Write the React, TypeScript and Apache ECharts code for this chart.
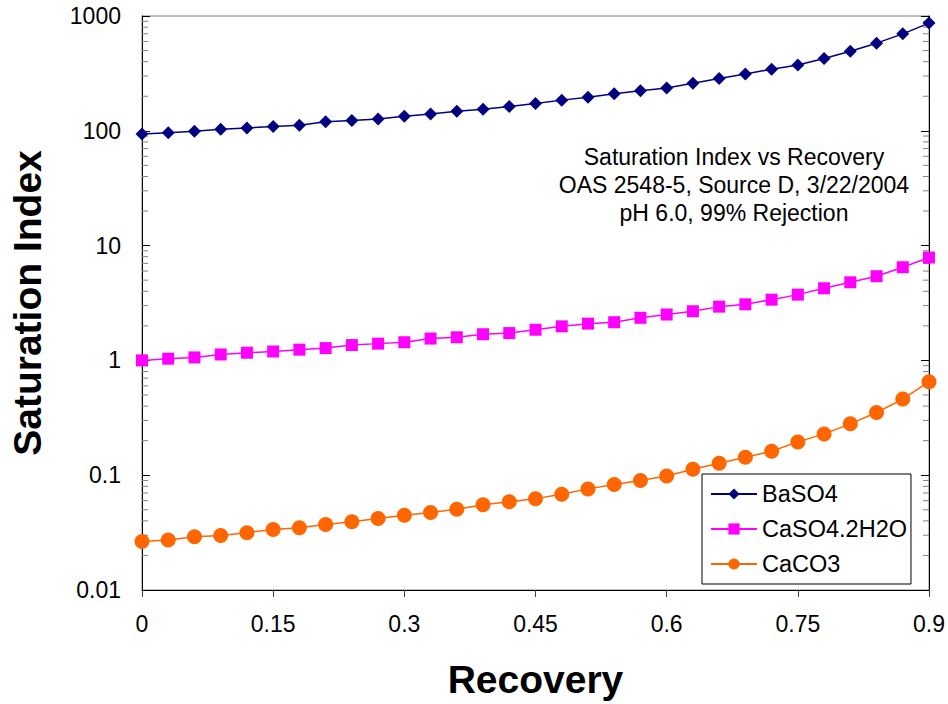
import React, { useEffect, useRef } from "react";
import * as echarts from "echarts";

const recovery = [
  0, 0.03, 0.06, 0.09, 0.12, 0.15, 0.18, 0.21, 0.24, 0.27, 0.3, 0.33, 0.36, 0.39, 0.42, 0.45,
  0.48, 0.51, 0.54, 0.57, 0.6, 0.63, 0.66, 0.69, 0.72, 0.75, 0.78, 0.81, 0.84, 0.87, 0.9,
];
const baso4 = [
  93.8, 96.2, 99, 103, 106, 109, 112, 120, 123, 127, 134, 140, 148, 154, 163, 173,
  185, 196, 210, 223, 236, 260, 285, 313, 344, 375, 426, 494, 580, 699, 867,
];
const caso4 = [
  1.0, 1.035, 1.062, 1.127, 1.166, 1.196, 1.24, 1.28, 1.36, 1.4, 1.44, 1.55, 1.59, 1.69, 1.73, 1.85,
  1.98, 2.09, 2.15, 2.35, 2.51, 2.68, 2.94, 3.08, 3.38, 3.74, 4.25, 4.79, 5.41, 6.48, 7.87,
];
const caco3 = [
  0.0264, 0.0272, 0.0291, 0.0299, 0.0316, 0.0337, 0.0349, 0.0372, 0.0394, 0.042, 0.0447, 0.0474,
  0.0504, 0.0554, 0.0588, 0.0625, 0.0681, 0.076, 0.0828, 0.0898, 0.0986, 0.1126, 0.1271, 0.1434,
  0.1617, 0.195, 0.229, 0.28, 0.352, 0.46, 0.652,
];
const seriesNames = ["BaSO4", "CaSO4.2H2O", "CaCO3"];
const annotationLines = [
  "Saturation Index vs Recovery",
  "OAS 2548-5, Source D, 3/22/2004",
  "pH 6.0, 99% Rejection",
];
const decades = [0.01, 0.1, 1, 10, 100];
const minorMultipliers = [2, 3, 4, 5, 6, 7, 8, 9];

const FONT = "'Liberation Sans', Arial, sans-serif";

export default function App() {
  const ref = useRef<HTMLDivElement>(null);
  useEffect(() => {
    if (!ref.current) return;
    const chart = echarts.init(ref.current, null, { renderer: "svg" });
    const pairs = (ys: number[]) => recovery.map((x, i) => [x, ys[i]]);
    const minorData: number[][] = [];
    decades.forEach((d) => minorMultipliers.forEach((m) => minorData.push([0, +(d * m).toPrecision(3)])));
    const xMin = 0;
    const xMax = 0.9;

    chart.setOption({
      animation: false,
      backgroundColor: "#ffffff",
      textStyle: { fontFamily: FONT },
      grid: {
        left: 142,
        top: 16,
        right: 18,
        bottom: 114,
        show: true,
        borderColor: "#808080",
        borderWidth: 1,
        backgroundColor: "transparent",
      },
      xAxis: {
        type: "value",
        min: 0,
        max: 0.9,
        interval: 0.15,
        name: "Recovery",
        nameLocation: "middle",
        nameGap: 70,
        nameTextStyle: { fontFamily: FONT, fontWeight: "bold", fontSize: 39, color: "#000" },
        axisLine: { show: true, lineStyle: { color: "#000", width: 1 } },
        axisTick: { show: true, inside: false, length: 7, lineStyle: { color: "#404040" } },
        axisLabel: { fontFamily: FONT, fontSize: 23, color: "#000", margin: 22 },
        splitLine: { show: false },
      },
      yAxis: [
        {
          type: "log",
          logBase: 10,
          min: 0.01,
          max: 1000,
          position: "left",
          name: "Saturation Index",
          nameLocation: "middle",
          nameGap: 95,
          nameTextStyle: { fontFamily: FONT, fontWeight: "bold", fontSize: 39, color: "#000" },
          axisLine: { show: true, lineStyle: { color: "#000", width: 1 } },
          axisTick: { show: true, inside: true, length: 8, lineStyle: { color: "#000" } },
          axisLabel: {
            fontFamily: FONT,
            fontSize: 23,
            color: "#000",
            margin: 21,
            formatter: (v: number) => String(+Number(v).toPrecision(6)),
          },
          splitLine: { show: false },
        },
        {
          type: "log",
          logBase: 10,
          min: 0.01,
          max: 1000,
          position: "right",
          axisLine: { show: true, lineStyle: { color: "#000", width: 1 } },
          axisTick: { show: true, inside: true, length: 8, lineStyle: { color: "#000" } },
          axisLabel: { show: false },
          splitLine: { show: false },
        },
      ],
      legend: {
        orient: "vertical",
        left: 702,
        top: 474,
        data: seriesNames,
        itemWidth: 46,
        itemHeight: 14,
        itemGap: 11,
        padding: [8, 4, 8, 8],
        backgroundColor: "#ffffff",
        borderColor: "#000",
        borderWidth: 1,
        borderRadius: 0,
        textStyle: { fontFamily: FONT, fontSize: 23.5, color: "#000", lineHeight: 24 },
      },
      graphic: [
        {
          type: "text",
          x: 734,
          y: 143,
          style: {
            text: annotationLines.join("\n"),
            font: `23px ${FONT}`,
            fill: "#000",
            align: "center",
            verticalAlign: "top",
            lineHeight: 28,
          },
        },
      ],
      series: [
        {
          type: "custom",
          name: "minorTicks",
          silent: true,
          yAxisIndex: 0,
          data: minorData,
          renderItem: (params: any, api: any) => {
            const v = api.value(1);
            const l = api.coord([xMin, v]);
            const r = api.coord([xMax, v]);
            return {
              type: "group",
              children: [
                { type: "line", shape: { x1: l[0], y1: l[1], x2: l[0] + 6, y2: l[1] }, style: { stroke: "#808080", lineWidth: 1 } },
                { type: "line", shape: { x1: r[0] - 6, y1: r[1], x2: r[0], y2: r[1] }, style: { stroke: "#808080", lineWidth: 1 } },
              ],
            };
          },
        },
        {
          name: seriesNames[0],
          type: "line",
          data: pairs(baso4),
          symbol: "diamond",
          symbolSize: 13,
          itemStyle: { color: "#000080" },
          lineStyle: { color: "#000080", width: 1.5 },
        },
        {
          name: seriesNames[1],
          type: "line",
          data: pairs(caso4),
          symbol: "rect",
          symbolSize: 12,
          itemStyle: { color: "#FF00FF" },
          lineStyle: { color: "#FF00FF", width: 1.5 },
        },
        {
          name: seriesNames[2],
          type: "line",
          data: pairs(caco3),
          symbol: "circle",
          symbolSize: 15,
          itemStyle: { color: "#FF6600" },
          lineStyle: { color: "#FF6600", width: 1.5 },
        },
      ],
    });
    return () => chart.dispose();
  }, []);
  return <div ref={ref} style={{ position: "absolute", left: 0, top: 0, width: 948, height: 704 }} />;
}
